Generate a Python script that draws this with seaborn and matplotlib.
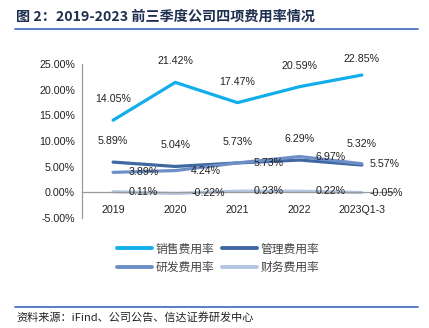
import matplotlib
matplotlib.use("Agg")
import matplotlib.pyplot as plt
import seaborn as sns
import pandas as pd
from matplotlib.lines import Line2D

categories = ["2019", "2020", "2021", "2022", "2023Q1-3"]
sales = [14.05, 21.42, 17.47, 20.59, 22.85]
admin = [5.89, 5.04, 5.73, 6.29, 5.32]
rnd = [3.89, 4.24, 5.73, 6.97, 5.57]
finance = [0.11, -0.22, 0.23, 0.22, -0.05]
series_names = ["销售费用率", "管理费用率", "研发费用率", "财务费用率"]
yticks = [-5, 0, 5, 10, 15, 20, 25]

sns.set_style("white")
plt.rcParams['font.family'] = ['Noto Sans CJK SC', 'DejaVu Sans']

colors = ["#12AEEC", "#3F68A3", "#6E8EC6", "#B3C5E1"]
values = [sales, admin, rnd, finance]

rows = []
for name, vals in zip(series_names, values):
    for i, (c, v) in enumerate(zip(categories, vals)):
        rows.append({"x": i, "cat": c, "value": v, "series": name})
df = pd.DataFrame(rows)

fig = plt.figure(figsize=(4.29, 3.28), dpi=100)
ax = fig.add_axes([82/429, 1-218/328, (393-82)/429, (218-64)/328])

sns.lineplot(data=df, x="x", y="value", hue="series", hue_order=series_names,
             palette=colors, linewidth=2.3, ax=ax, legend=False, sort=False)

ax.set_xlim(-0.5, 4.5)
ax.set_ylim(-5, 25)
ax.set_yticks(yticks)
ax.set_yticklabels([f"{t:.2f}%" for t in yticks])
ax.set_xticks(range(len(categories)))
ax.set_xticklabels(categories)
ax.set_xlabel("")
ax.set_ylabel("")

for s in ["top", "right"]:
    ax.spines[s].set_visible(False)
ax.spines["bottom"].set_position(("data", 0))
ax.spines["bottom"].set_color("#9A9A9A")
ax.spines["left"].set_color("#9A9A9A")
ax.spines["bottom"].set_linewidth(0.9)
ax.spines["left"].set_linewidth(0.9)
ax.tick_params(axis="y", length=3, color="#9A9A9A", labelsize=7.7, labelcolor="#222222", pad=2)
ax.tick_params(axis="x", length=0, labelsize=7.7, labelcolor="#222222", pad=9)
for lab in ax.get_xticklabels() + ax.get_yticklabels():
    lab.set_fontfamily(['Liberation Sans', 'DejaVu Sans'])

lab_font = dict(fontsize=7.7, color="#222222", family=['Liberation Sans', 'DejaVu Sans'])
# labels above for sales & admin
for vals in (sales, admin):
    for i, v in enumerate(vals):
        dy = 16 if (vals is sales and i == 4) else 21
        ax.annotate(f"{v:.2f}%", xy=(i, v), xytext=(0, dy), textcoords="offset pixels",
                    ha="center", va="center", **lab_font)
# labels right for rnd & finance
for vals in (rnd, finance):
    for i, v in enumerate(vals):
        dx = 8 if i == 4 else 16
        ax.annotate(f"{v:.2f}%", xy=(i, v), xytext=(dx, 0), textcoords="offset pixels",
                    ha="left", va="center", **lab_font)

handles = [Line2D([0], [0], color=c, lw=2.8) for c in colors]
order = [0, 2, 1, 3]
fig.legend([handles[k] for k in order], [series_names[k] for k in order],
           loc="center", bbox_to_anchor=(218/429, 1-258/328),
           ncol=2, frameon=False, fontsize=8.5, handlelength=3.0, handletextpad=0.3,
           columnspacing=0.6, labelspacing=0.45, labelcolor="#444444")

fig.text(16/429, 1-17/328, "图 2：2019-2023 前三季度公司四项费用率情况", fontsize=10.2,
         fontweight="bold", color="#1F2F4F", ha="left", va="center")
fig.add_artist(Line2D([15/429, 418/429], [1-29/328, 1-29/328], color="#4A74C0", lw=1.3))
fig.add_artist(Line2D([15/429, 418/429], [1-307/328, 1-307/328], color="#4A74C0", lw=1.3))
fig.text(16/429, 1-317/328, "资料来源：iFind、公司公告、信达证券研发中心", fontsize=8,
         style="italic", color="#222222", ha="left", va="center")

fig.savefig("out.png", dpi=100)
